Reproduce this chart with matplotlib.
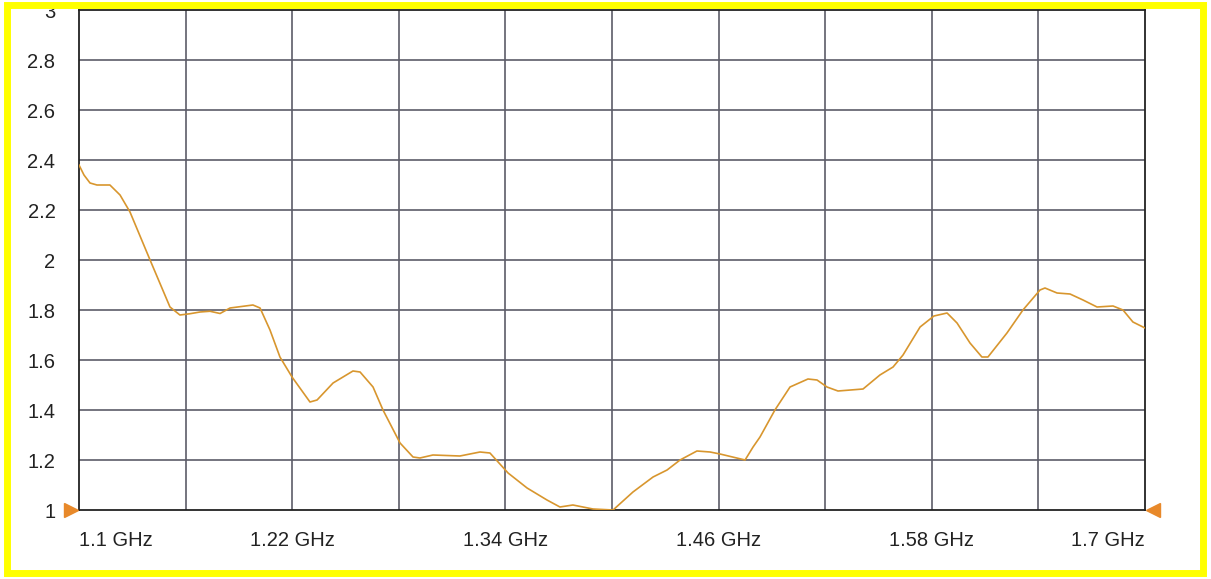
import matplotlib
matplotlib.use("Agg")
import matplotlib.pyplot as plt
from matplotlib.patches import Rectangle
from matplotlib.transforms import offset_copy

freq = [1.1000, 1.1028, 1.1062, 1.1101, 1.1174, 1.1231, 1.1287, 1.1400, 1.1512,
        1.1568, 1.1624, 1.1681, 1.1737, 1.1794, 1.1850, 1.1979, 1.2019, 1.2075,
        1.2131, 1.2199, 1.2300, 1.2340, 1.2430, 1.2542, 1.2582, 1.2655, 1.2711,
        1.2807, 1.2880, 1.2919, 1.2992, 1.3144, 1.3257, 1.3313, 1.3415, 1.3522,
        1.3634, 1.3707, 1.3780, 1.3893, 1.4006, 1.4118, 1.4231, 1.4310, 1.4383,
        1.4478, 1.4552, 1.4608, 1.4749, 1.4794, 1.4833, 1.4917, 1.5002, 1.5103,
        1.5154, 1.5210, 1.5272, 1.5413, 1.5508, 1.5582, 1.5638, 1.5734, 1.5812,
        1.5886, 1.5942, 1.6015, 1.6082, 1.6116, 1.6223, 1.6313, 1.6409, 1.6437,
        1.6505, 1.6578, 1.6651, 1.6730, 1.6820, 1.6876, 1.6932, 1.7000]
vswr = [2.38, 2.34, 2.308, 2.30, 2.30, 2.26, 2.192, 2.00, 1.812,
        1.78, 1.785, 1.792, 1.795, 1.786, 1.808, 1.82, 1.808, 1.72,
        1.612, 1.532, 1.432, 1.44, 1.508, 1.556, 1.552, 1.492, 1.40,
        1.268, 1.212, 1.208, 1.22, 1.216, 1.232, 1.228, 1.148, 1.088,
        1.04, 1.012, 1.02, 1.004, 1.0, 1.072, 1.132, 1.16, 1.20,
        1.236, 1.232, 1.224, 1.20, 1.252, 1.292, 1.40, 1.492, 1.524,
        1.52, 1.492, 1.476, 1.484, 1.54, 1.572, 1.62, 1.732, 1.776,
        1.788, 1.748, 1.668, 1.612, 1.612, 1.708, 1.80, 1.88, 1.888,
        1.868, 1.864, 1.84, 1.812, 1.816, 1.80, 1.752, 1.728]

x_grid = [1.1 + 0.06 * i for i in range(11)]
x_tick_pos = [1.1, 1.22, 1.34, 1.46, 1.58, 1.7]
x_tick_labels = ["1.1 GHz", "1.22 GHz", "1.34 GHz", "1.46 GHz", "1.58 GHz", "1.7 GHz"]
y_ticks = [1, 1.2, 1.4, 1.6, 1.8, 2, 2.2, 2.4, 2.6, 2.8, 3]
y_tick_labels = ["1", "1.2", "1.4", "1.6", "1.8", "2", "2.2", "2.4", "2.6", "2.8", "3"]

plt.rcParams['font.family'] = ['Liberation Sans', 'DejaVu Sans']

fig = plt.figure(figsize=(12.11, 5.79), dpi=100)
ax = fig.add_axes([79 / 1211, 69 / 579, 1066 / 1211, 500 / 579])

ax.plot(freq, vswr, color='#D8962E', linewidth=1.2, zorder=3)

ax.set_xlim(1.1, 1.7)
ax.set_ylim(1, 3)

# grid lines every 0.06 GHz and every 0.2
for xv in x_grid[1:-1]:
    ax.axvline(xv, color='#5c5c68', linewidth=1.2, zorder=1)
for yv in y_ticks[1:-1]:
    ax.axhline(yv, color='#5c5c68', linewidth=1.2, zorder=1)

for s in ax.spines.values():
    s.set_color('#222222')
    s.set_linewidth(1.3)

ax.set_xticks(x_tick_pos)
ax.set_xticklabels(x_tick_labels, fontsize=14.5, color='#222222')
ax.set_yticks(y_ticks)
ax.set_yticklabels(y_tick_labels, fontsize=14.5, color='#222222')
ax.tick_params(axis='x', length=0, pad=15)
ax.tick_params(axis='y', length=0, pad=17)
xl = ax.get_xticklabels()
xl[0].set_horizontalalignment('left')
xl[-1].set_horizontalalignment('right')

# orange sweep markers at both ends of the x axis
left_tr = offset_copy(ax.transData, fig=fig, x=-8, y=0, units='dots')
right_tr = offset_copy(ax.transData, fig=fig, x=8, y=0, units='dots')
ax.plot([1.1], [1], marker='>', color='#E8892A', markersize=10,
        transform=left_tr, clip_on=False, zorder=4)
ax.plot([1.7], [1], marker='<', color='#E8892A', markersize=10,
        transform=right_tr, clip_on=False, zorder=4)

# yellow frame around the whole picture
fig.patches.append(Rectangle((7 / 1211, 6 / 579), 1196 / 1211, 568 / 579,
                             transform=fig.transFigure, fill=False,
                             edgecolor='#FFFF00', linewidth=5, zorder=10))

plt.savefig('out.png', dpi=100)
